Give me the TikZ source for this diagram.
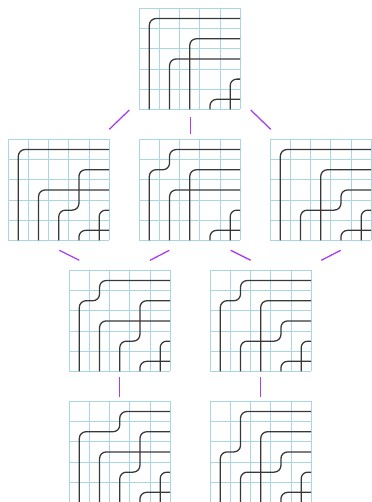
\documentclass[tikz,border=0pt]{standalone}
\usetikzlibrary{calc}
\definecolor{gridblue}{RGB}{170,214,228}
\definecolor{edgepurple}{RGB}{168,60,240}
\tikzset{
  gridnode/.style={draw=none,inner sep=0pt,minimum size=75.75pt,rectangle},
  gridline/.style={draw=gridblue,line width=0.75pt},
  pipe/.style={draw=black!78,line width=0.95pt,rounded corners=5pt},
  edge/.style={draw=edgepurple,line width=0.95pt}
}
% simple elbow: column #1 from bottom up to row #2, then right
\newcommand{\pp}[2]{\draw[pipe] (#1-0.5,5) |- (5,#2-0.5);}
% droop: column #1 up to row #2, right to column #3, up to row #4, right
\newcommand{\pd}[4]{\draw[pipe] (#1-0.5,5) |- (#3-0.5,#2-0.5) |- (5,#4-0.5);}
\newcommand{\bpd}[4]{%
  \node[gridnode] (#1) at (#2+50.5,#3+50.5) {};
  \begin{scope}[shift={(#1.north west)},x=15.15pt,y=-15.15pt]
    \foreach \i in {0,...,5} {
      \draw[gridline] (\i,0) -- (\i,5);
      \draw[gridline] (0,\i) -- (5,\i);
    }
    #4
  \end{scope}}
\begin{document}
\begin{tikzpicture}[x=0.75pt,y=-0.75pt]
\fill[white] (0,0) rectangle (371,502);
\useasboundingbox (0,0) rectangle (371,502);
\bpd{g0}{139.5}{8.7}{\pp{1}{1}\pp{3}{2}\pp{2}{3}\pp{5}{4}\pp{4}{5}}
\bpd{g1}{8.5}{139.7}{\pp{1}{1}\pd{3}{4}{4}{2}\pp{2}{3}\pp{5}{4}\pp{4}{5}}
\bpd{g2}{139.5}{139.7}{\pd{1}{2}{2}{1}\pp{3}{2}\pp{2}{3}\pp{5}{4}\pp{4}{5}}
\bpd{g3}{270.5}{139.7}{\pp{1}{1}\pp{3}{2}\pd{2}{4}{4}{3}\pp{5}{4}\pp{4}{5}}
\bpd{g4}{69.5}{270.7}{\pd{1}{2}{2}{1}\pd{3}{4}{4}{2}\pp{2}{3}\pp{5}{4}\pp{4}{5}}
\bpd{g5}{210.5}{270.7}{\pd{1}{2}{2}{1}\pp{3}{2}\pd{2}{4}{4}{3}\pp{5}{4}\pp{4}{5}}
\bpd{g6}{69.5}{401.7}{\pd{1}{2}{3}{1}\pd{3}{4}{4}{2}\pp{2}{3}\pp{5}{4}\pp{4}{5}}
\bpd{g7}{210.5}{401.7}{\pd{1}{3}{2}{1}\pp{3}{2}\pd{2}{4}{4}{3}\pp{5}{4}\pp{4}{5}}
% connectors
\coordinate (a1) at (129.3,110);   \coordinate (b1) at (109.3,129.3);
\coordinate (a2) at (190.2,117.3); \coordinate (b2) at (190.2,134);
\coordinate (a3) at (250.7,110);   \coordinate (b3) at (270.7,129.3);
\coordinate (a4) at (59.3,250.3);  \coordinate (b4) at (79.3,260.3);
\coordinate (a5) at (169.3,250.3); \coordinate (b5) at (150,260.3);
\coordinate (a6) at (230.7,250.3); \coordinate (b6) at (250.7,260.3);
\coordinate (a7) at (340.7,250.3); \coordinate (b7) at (321.3,260.3);
\coordinate (a8) at (119.3,376.7); \coordinate (b8) at (119.3,396.7);
\coordinate (a9) at (260.3,376.7); \coordinate (b9) at (260.3,396.7);
\foreach \k in {1,...,9} { \draw[edge] (a\k) -- (b\k); }
\end{tikzpicture}
\end{document}
